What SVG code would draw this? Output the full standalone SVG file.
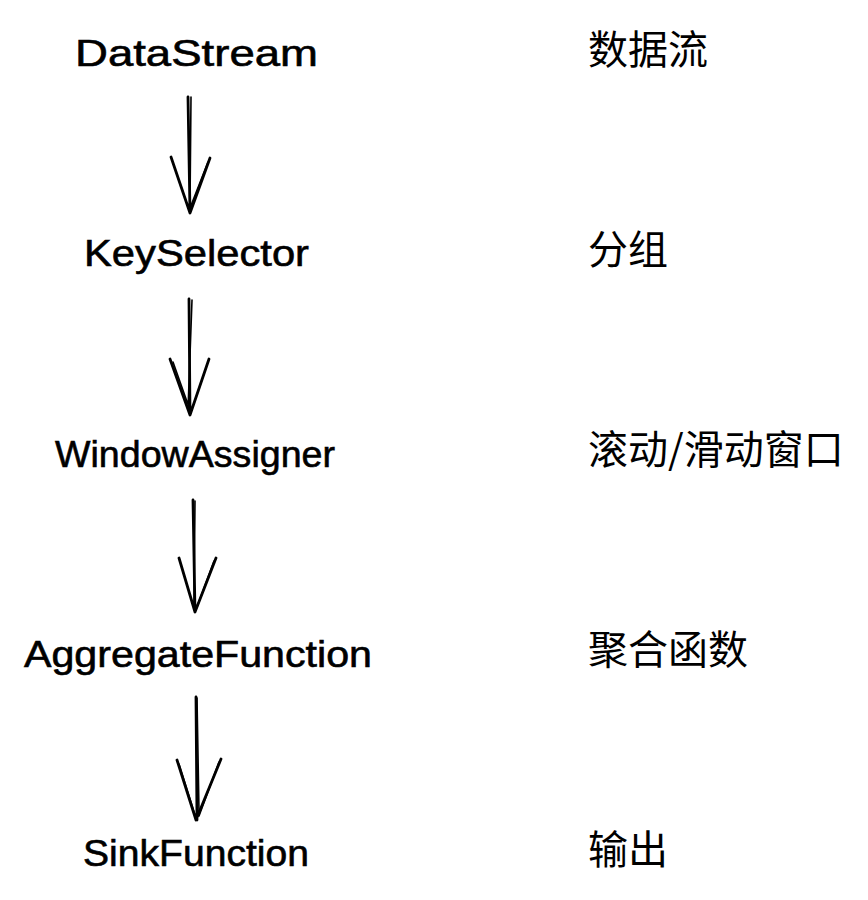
<svg xmlns="http://www.w3.org/2000/svg" width="868" height="900" viewBox="0 0 868 900">
<style>
.lbl{font-family:"Liberation Sans","DejaVu Sans",sans-serif;font-size:37px;fill:#000000;stroke:#000000;stroke-width:0.6;text-anchor:start}
.cn{font-family:"Noto Sans CJK SC","Noto Sans",sans-serif;font-size:40px;fill:#000000}
.arr{fill:none;stroke:#000000;stroke-width:2.8;stroke-linecap:round;stroke-linejoin:round}
.arr2{fill:none;stroke:#000000;stroke-width:1.6;stroke-linecap:round}
</style>
<rect width="868" height="900" fill="#ffffff"/>
<g id="node-datastream"><text class="lbl" x="75" y="66" textLength="243" lengthAdjust="spacingAndGlyphs">DataStream</text></g>
<g id="node-keyselector"><text class="lbl" x="84" y="266" textLength="225" lengthAdjust="spacingAndGlyphs">KeySelector</text></g>
<g id="node-windowassigner"><text class="lbl" x="55" y="467" textLength="280" lengthAdjust="spacingAndGlyphs">WindowAssigner</text></g>
<g id="node-aggregatefunction"><text class="lbl" x="24" y="667" textLength="348" lengthAdjust="spacingAndGlyphs">AggregateFunction</text></g>
<g id="node-sinkfunction"><text class="lbl" x="83" y="866" textLength="226" lengthAdjust="spacingAndGlyphs">SinkFunction</text></g>
<g id="label-datastream"><text class="cn" x="588" y="64">数据流</text></g>
<g id="label-keyselector"><text class="cn" x="588" y="264">分组</text></g>
<g id="label-windowassigner"><text class="cn" x="588" y="464">滚动/滑动窗口</text></g>
<g id="label-aggregatefunction"><text class="cn" x="588" y="664">聚合函数</text></g>
<g id="label-sinkfunction"><text class="cn" x="588" y="864">输出</text></g>
<g id="connectors">
<path class="arr" d="M188 97 L190 213 M171 157 L190 213 L210 158"/>
<path class="arr2" d="M191 97 L190 205 M208 162 L190 208"/>
<path class="arr" d="M189 299 L190 415 M170 359 L190 415 L209 359"/>
<path class="arr2" d="M192 300 L188 410 M173 362 L191 413"/>
<path class="arr" d="M193 500 L195 612 M179 558 L195 612 L216 558"/>
<path class="arr2" d="M195 501 L194 605 M214 561 L197 607"/>
<path class="arr" d="M196 697 L197 820 M177 760 L196 820 L221 759"/>
<path class="arr2" d="M197 698 L199 812 M179 764 L195 815 M219 762 L199 816"/>
</g>
</svg>
